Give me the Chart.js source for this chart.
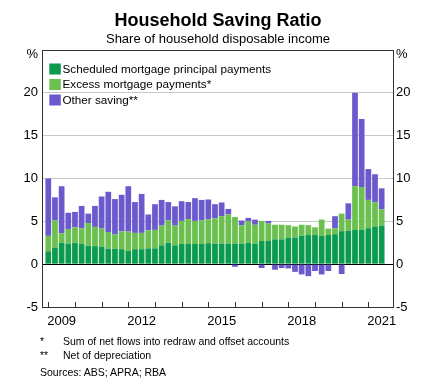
<!DOCTYPE html>
<html>
<head>
<meta charset="utf-8">
<script src="https://cdn.jsdelivr.net/npm/chart.js@4/dist/chart.umd.min.js"></script>
<style>
html,body{margin:0;padding:0;background:#fff;}
#wrap{position:relative;width:440px;height:391px;overflow:hidden;font-family:Arial,"Liberation Sans",sans-serif;color:#000;}
canvas{position:absolute;left:0;top:0;}
.t{position:absolute;white-space:nowrap;}
</style>
</head>
<body>
<div id="wrap">
<canvas id="c" width="440" height="391"></canvas>
<div class="t" style="left:0;width:436px;text-align:center;top:10.8px;font-size:18px;line-height:18px;font-weight:bold;">Household Saving Ratio</div>
<div class="t" style="left:0;width:436px;text-align:center;top:31.5px;font-size:13px;line-height:13px;">Share of household disposable income</div>
<div class="t" style="left:40px;top:336px;font-size:10.5px;line-height:10.5px;">*</div>
<div class="t" style="left:63px;top:336px;font-size:10.5px;line-height:10.5px;">Sum of net flows into redraw and offset accounts</div>
<div class="t" style="left:40px;top:350px;font-size:10.5px;line-height:10.5px;">**</div>
<div class="t" style="left:63px;top:350px;font-size:10.5px;line-height:10.5px;">Net of depreciation</div>
<div class="t" style="left:40px;top:367px;font-size:10.5px;line-height:10.5px;">Sources: ABS; APRA; RBA</div>
</div>
<script>
// ---- data ----
const quarters = [
  "2008Q4",
  "2009Q1","2009Q2","2009Q3","2009Q4",
  "2010Q1","2010Q2","2010Q3","2010Q4",
  "2011Q1","2011Q2","2011Q3","2011Q4",
  "2012Q1","2012Q2","2012Q3","2012Q4",
  "2013Q1","2013Q2","2013Q3","2013Q4",
  "2014Q1","2014Q2","2014Q3","2014Q4",
  "2015Q1","2015Q2","2015Q3","2015Q4",
  "2016Q1","2016Q2","2016Q3","2016Q4",
  "2017Q1","2017Q2","2017Q3","2017Q4",
  "2018Q1","2018Q2","2018Q3","2018Q4",
  "2019Q1","2019Q2","2019Q3","2019Q4",
  "2020Q1","2020Q2","2020Q3","2020Q4",
  "2021Q1","2021Q2"
];
const seriesNames = [
  "Scheduled mortgage principal payments",
  "Excess mortgage payments*",
  "Other saving**"
];
const scheduled = [1.5,1.9,2.5,2.4,2.5,2.35,2.15,2.1,2.05,1.8,1.8,1.75,1.55,1.75,1.75,1.85,1.85,2.2,2.5,2.2,2.35,2.35,2.35,2.35,2.45,2.4,2.4,2.4,2.4,2.4,2.5,2.4,2.7,2.7,2.9,2.9,3.1,3.1,3.3,3.4,3.4,3.3,3.4,3.5,3.85,3.9,4.0,4.0,4.2,4.4,4.5];
const excess = [1.8,3.2,1.1,1.7,1.8,1.85,2.65,2.25,2.1,1.95,1.65,2.1,2.25,1.9,1.9,2.1,2.15,2.3,2.6,2.3,2.7,2.9,2.7,2.75,2.8,2.95,3.2,3.4,3.1,2.15,2.5,2.2,2.35,2.05,1.7,1.7,1.45,1.3,1.3,1.15,0.9,1.9,0.75,0.7,2.05,1.3,5.1,5.0,3.3,2.8,1.9];
const other = [6.7,2.7,5.5,1.9,1.8,2.6,1.1,2.45,3.75,4.7,4.15,4.25,5.3,3.6,4.55,1.85,3.0,3.0,2.15,2.25,2.3,2.0,2.65,2.4,2.3,1.65,1.6,0.65,-0.3,0.55,0.4,0.6,-0.45,0.3,-0.65,-0.45,-0.5,-0.9,-1.2,-1.4,-0.8,-1.2,-0.8,1.4,-1.15,1.9,10.9,7.95,3.6,3.3,2.45];
const yearLabels = [2009, 2012, 2015, 2018, 2021];
const yearTicks = [2009,2010,2011,2012,2013,2014,2015,2016,2017,2018,2019,2020,2021];
const yTickValues = [-5, 0, 5, 10, 15, 20, 25];

// ---- styles ----
const COL_DG = '#0b9a4e';
const COL_LG = '#6cc04f';
const COL_PU = '#6a5acd';
const GRID = '#c8c8c8';
const FRAME = '#333333';

Chart.defaults.font.family = 'Arial, "Liberation Sans", sans-serif';
Chart.defaults.color = '#000';

// quarter end position in decimal years
const pos = quarters.map(q => Number(q.slice(0,4)) + Number(q.slice(5)) / 4);
const mk = arr => arr.map((v, i) => ({x: pos[i], y: v}));

const framePlugin = {
  id: 'frame',
  afterDatasetsDraw(chart) {
    const {ctx, chartArea: a, scales} = chart;
    ctx.save();
    ctx.strokeStyle = FRAME;
    ctx.lineWidth = 1;
    ctx.beginPath();
    yearTicks.forEach(yr => {
      const px = Math.round(scales.x.getPixelForValue(yr)) + 0.5;
      ctx.moveTo(px, a.bottom);
      ctx.lineTo(px, a.bottom - 5);
    });
    ctx.stroke();
    ctx.beginPath();
    ctx.rect(Math.round(a.left) + 0.5, Math.round(a.top) + 0.5, Math.round(a.right - a.left), Math.round(a.bottom - a.top));
    ctx.stroke();
    ctx.restore();
  },
  afterDraw(chart) {
    const {ctx, chartArea: a, scales} = chart;
    ctx.save();
    ctx.font = '13px Arial, "Liberation Sans", sans-serif';
    ctx.fillStyle = '#000';
    ctx.textBaseline = 'middle';
    const yTop = scales.y.getPixelForValue(25) + 4;
    ctx.textAlign = 'right';
    ctx.fillText('%', a.left - 4, yTop);
    ctx.textAlign = 'left';
    ctx.fillText('%', a.right + 3, yTop);
    ctx.font = '11.7px Arial, "Liberation Sans", sans-serif';
    chart.data.datasets.forEach((ds, i) => {
      const y0 = a.top + 13.5 + i * 15.5;
      ctx.fillStyle = ds.backgroundColor;
      ctx.fillRect(a.left + 7.3, y0, 11.5, 11);
      ctx.fillStyle = '#000';
      ctx.textAlign = 'left';
      ctx.fillText(ds.label, a.left + 20.5, y0 + 6);
    });
    ctx.restore();
  }
};

new Chart(document.getElementById('c'), {
  type: 'bar',
  data: {
    datasets: [
      {label: seriesNames[0], data: mk(scheduled), backgroundColor: COL_DG, stack: 's'},
      {label: seriesNames[1], data: mk(excess), backgroundColor: COL_LG, stack: 's'},
      {label: seriesNames[2], data: mk(other), backgroundColor: COL_PU, stack: 's'}
    ]
  },
  options: {
    responsive: false,
    animation: false,
    devicePixelRatio: 1,
    categoryPercentage: 1,
    barPercentage: 0.86,
    layout: {padding: {top: 50, bottom: 62, left: 0, right: 0}},
    plugins: {legend: {display: false}, tooltip: {enabled: false}, title: {display: false}},
    scales: {
      x: {
        type: 'linear', min: 2008.764, max: 2021.925, stacked: true, offset: false,
        afterBuildTicks: s => { s.ticks = yearLabels.map(y => ({value: y + 0.5})); },
        ticks: {callback: v => String(Math.floor(v)), autoSkip: false, maxRotation: 0, padding: 6.5, font: {size: 13}, color: '#000'},
        grid: {display: false, drawTicks: false},
        border: {display: true, color: FRAME, width: 1},
        afterFit: s => { s.height = 22; }
      },
      y: {
        position: 'left', min: -5, max: 25, stacked: true,
        afterBuildTicks: s => { s.ticks = yTickValues.map(v => ({value: v})); },
        ticks: {callback: v => (v === 25 ? '' : String(v)), padding: 4, font: {size: 13}, color: '#000'},
        grid: {drawTicks: false, color: c => (c.tick && c.tick.value === 0 ? '#000' : (c.tick && (c.tick.value === -5 || c.tick.value === 25) ? 'rgba(0,0,0,0)' : GRID)), lineWidth: 1},
        border: {display: true, color: FRAME, width: 1},
        afterFit: s => { s.width = 42; }
      },
      y2: {
        position: 'right', min: -5, max: 25, display: true,
        afterBuildTicks: s => { s.ticks = yTickValues.map(v => ({value: v})); },
        ticks: {callback: v => (v === 25 ? '' : String(v)), padding: 3, font: {size: 13}, color: '#000'},
        grid: {display: false, drawTicks: false},
        border: {display: true, color: FRAME, width: 1},
        afterFit: s => { s.width = 47; }
      }
    }
  },
  plugins: [framePlugin]
});
</script>
</body>
</html>
